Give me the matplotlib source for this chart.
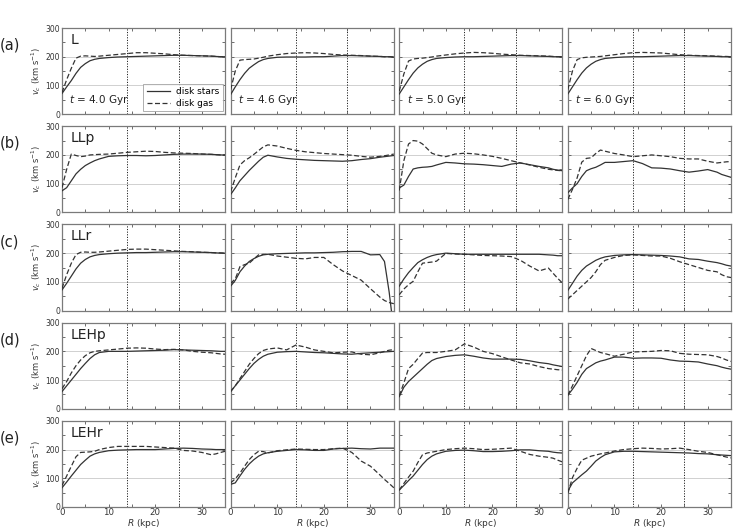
import matplotlib
matplotlib.use("Agg")
import matplotlib.pyplot as plt
from matplotlib.ticker import MultipleLocator
from matplotlib.transforms import blended_transform_factory

# Radius grid (kpc)
R = [0, 1, 2, 3, 4, 5, 6, 7, 8, 10, 12, 14, 16, 18, 20, 22, 24, 26, 28, 30, 32, 33, 34, 35]

models = ["L", "LLp", "LLr", "LEHp", "LEHr"]
row_labels = ["(a)", "(b)", "(c)", "(d)", "(e)"]
times = ["4.0", "4.6", "5.0", "6.0"]
markers_R = [14, 25]

# ---- Row (a): L ----
stars_L_40 = [72, 95, 117, 142, 163, 176, 186, 191, 194, 197, 199, 200, 201, 202, 203, 204, 205, 205, 204, 203, 202, 201, 200, 200]
gas_L_40 = [75, 120, 160, 195, 202, 203, 202, 201, 202, 205, 208, 211, 214, 214, 212, 210, 207, 205, 204, 203, 202, 201, 200, 200]
stars_L_46 = [68, 95, 120, 142, 160, 172, 183, 190, 194, 198, 199, 199, 199, 200, 200, 202, 204, 204, 203, 202, 201, 200, 200, 199]
gas_L_46 = [85, 150, 188, 190, 191, 192, 195, 198, 202, 207, 211, 213, 214, 213, 211, 208, 206, 205, 204, 202, 201, 200, 200, 199]
stars_L_50 = [70, 95, 120, 143, 161, 174, 184, 190, 194, 197, 199, 200, 200, 201, 202, 203, 204, 204, 203, 202, 201, 200, 200, 200]
gas_L_50 = [80, 140, 185, 192, 194, 195, 197, 199, 202, 206, 210, 213, 215, 214, 212, 209, 207, 205, 204, 203, 202, 201, 200, 200]
stars_L_60 = [70, 95, 120, 143, 161, 174, 184, 190, 194, 197, 199, 200, 200, 201, 202, 203, 204, 204, 203, 202, 201, 200, 200, 200]
gas_L_60 = [85, 150, 190, 196, 198, 199, 200, 201, 203, 207, 211, 214, 215, 214, 213, 210, 207, 205, 204, 203, 202, 201, 201, 200]

# ---- Row (b): LLp ----
stars_LLp_40 = [75, 86, 110, 134, 150, 163, 172, 180, 186, 195, 197, 198, 198, 197, 198, 200, 202, 203, 203, 203, 202, 201, 200, 200]
gas_LLp_40 = [86, 150, 203, 198, 194, 196, 200, 201, 202, 203, 206, 209, 211, 213, 212, 209, 207, 206, 205, 203, 202, 201, 200, 200]
stars_LLp_46 = [62, 85, 110, 128, 146, 162, 178, 192, 199, 193, 188, 185, 183, 181, 180, 179, 178, 180, 184, 187, 192, 194, 196, 198]
gas_LLp_46 = [72, 120, 165, 180, 190, 202, 215, 228, 235, 231, 223, 216, 211, 208, 205, 203, 201, 199, 195, 192, 195, 197, 200, 203]
stars_LLp_50 = [85, 95, 125, 151, 155, 157, 158, 160, 165, 174, 172, 169, 168, 166, 163, 160, 168, 172, 166, 160, 155, 150, 147, 145]
gas_LLp_50 = [76, 180, 238, 250, 248, 238, 222, 206, 200, 194, 203, 206, 204, 200, 195, 188, 180, 172, 165, 157, 150, 148, 146, 145]
stars_LLp_60 = [68, 85, 100, 125, 145, 152, 157, 165, 174, 174, 177, 180, 170, 155, 154, 151, 145, 140, 144, 149, 140, 132, 127, 122]
gas_LLp_60 = [45, 80, 120, 175, 188, 190, 205, 217, 213, 205, 200, 194, 197, 200, 197, 194, 188, 186, 186, 178, 172, 174, 176, 177]

# ---- Row (c): LLr ----
stars_LLr_40 = [72, 95, 120, 145, 165, 178, 187, 192, 195, 198, 200, 201, 202, 202, 203, 204, 205, 205, 204, 203, 202, 201, 200, 200]
gas_LLr_40 = [78, 125, 165, 195, 203, 204, 203, 203, 204, 207, 210, 213, 214, 214, 212, 210, 208, 206, 205, 203, 202, 201, 201, 200]
stars_LLr_46 = [85, 105, 135, 155, 171, 181, 189, 194, 196, 198, 199, 200, 201, 201, 202, 203, 205, 206, 206, 194, 195, 171, 65, -70]
gas_LLr_46 = [95, 110, 153, 160, 165, 180, 194, 196, 196, 190, 186, 182, 180, 185, 185, 160, 138, 122, 106, 76, 47, 35, 28, 24]
stars_LLr_50 = [85, 110, 132, 150, 167, 177, 185, 191, 195, 200, 198, 196, 196, 196, 196, 196, 196, 196, 196, 196, 194, 193, 191, 191]
gas_LLr_50 = [55, 75, 90, 102, 135, 165, 167, 169, 172, 199, 197, 196, 194, 192, 191, 190, 188, 175, 155, 138, 148, 130, 112, 96]
stars_LLr_60 = [70, 95, 120, 140, 155, 165, 175, 182, 187, 192, 194, 195, 194, 193, 192, 190, 187, 180, 178, 172, 167, 163, 158, 155]
gas_LLr_60 = [40, 55, 70, 85, 100, 115, 135, 160, 175, 185, 192, 194, 192, 190, 190, 182, 170, 160, 150, 140, 135, 125, 118, 115]

# ---- Row (d): LEHp ----
stars_LEHp_40 = [60, 80, 100, 120, 140, 158, 175, 188, 196, 200, 200, 200, 201, 202, 203, 204, 206, 205, 204, 203, 202, 201, 200, 200]
gas_LEHp_40 = [70, 95, 125, 150, 170, 185, 195, 200, 202, 205, 208, 211, 212, 211, 208, 206, 207, 205, 200, 197, 195, 193, 191, 190]
stars_LEHp_46 = [60, 80, 100, 120, 140, 158, 172, 183, 190, 197, 199, 200, 198, 196, 195, 193, 191, 190, 193, 195, 197, 198, 199, 200]
gas_LEHp_46 = [60, 80, 105, 130, 155, 175, 192, 203, 208, 212, 205, 222, 215, 205, 200, 195, 197, 198, 190, 188, 195, 200, 204, 206]
stars_LEHp_50 = [42, 75, 95, 110, 125, 140, 155, 168, 175, 182, 186, 188, 183, 177, 173, 173, 173, 172, 167, 161, 157, 153, 150, 147]
gas_LEHp_50 = [45, 90, 140, 155, 175, 194, 196, 196, 196, 200, 205, 226, 215, 200, 192, 181, 170, 160, 156, 147, 140, 138, 136, 135]
stars_LEHp_60 = [47, 68, 92, 120, 140, 150, 160, 166, 170, 180, 180, 176, 177, 177, 176, 170, 166, 165, 163, 156, 150, 145, 141, 138]
gas_LEHp_60 = [47, 80, 115, 150, 185, 210, 203, 196, 192, 183, 190, 198, 199, 200, 203, 202, 193, 190, 189, 188, 182, 177, 170, 165]

# ---- Row (e): LEHr ----
stars_LEHr_40 = [67, 87, 108, 128, 148, 163, 177, 185, 190, 196, 198, 199, 200, 200, 200, 202, 204, 205, 204, 202, 201, 200, 200, 200]
gas_LEHr_40 = [75, 108, 142, 175, 190, 191, 192, 194, 200, 207, 211, 211, 211, 211, 209, 207, 205, 197, 195, 190, 182, 185, 190, 194]
stars_LEHr_46 = [79, 84, 108, 131, 150, 165, 177, 185, 189, 194, 197, 200, 199, 197, 197, 202, 204, 205, 203, 202, 205, 205, 205, 205]
gas_LEHr_46 = [84, 98, 118, 142, 165, 182, 194, 193, 188, 196, 199, 202, 201, 200, 200, 203, 205, 190, 160, 142, 112, 96, 82, 67]
stars_LEHr_50 = [59, 75, 92, 108, 128, 148, 165, 177, 185, 194, 197, 198, 196, 193, 193, 194, 196, 199, 199, 196, 194, 191, 189, 188]
gas_LEHr_50 = [59, 82, 104, 125, 155, 182, 188, 191, 194, 200, 203, 205, 203, 200, 201, 203, 205, 194, 183, 177, 173, 170, 163, 157]
stars_LEHr_60 = [55, 84, 98, 112, 125, 142, 160, 172, 182, 192, 194, 194, 193, 192, 191, 190, 189, 188, 186, 185, 182, 181, 180, 179]
gas_LEHr_60 = [47, 102, 135, 163, 170, 177, 181, 185, 188, 195, 200, 203, 205, 204, 202, 203, 205, 200, 194, 190, 182, 178, 174, 171]

stars = [
    [stars_L_40, stars_L_46, stars_L_50, stars_L_60],
    [stars_LLp_40, stars_LLp_46, stars_LLp_50, stars_LLp_60],
    [stars_LLr_40, stars_LLr_46, stars_LLr_50, stars_LLr_60],
    [stars_LEHp_40, stars_LEHp_46, stars_LEHp_50, stars_LEHp_60],
    [stars_LEHr_40, stars_LEHr_46, stars_LEHr_50, stars_LEHr_60],
]
gas = [
    [gas_L_40, gas_L_46, gas_L_50, gas_L_60],
    [gas_LLp_40, gas_LLp_46, gas_LLp_50, gas_LLp_60],
    [gas_LLr_40, gas_LLr_46, gas_LLr_50, gas_LLr_60],
    [gas_LEHp_40, gas_LEHp_46, gas_LEHp_50, gas_LEHp_60],
    [gas_LEHr_40, gas_LEHr_46, gas_LEHr_50, gas_LEHr_60],
]

fig = plt.figure(figsize=(7.33, 5.30), dpi=100)
gs = fig.add_gridspec(5, 4, left=62/733, right=731/733, top=1-28/530, bottom=1-507/530,
                      wspace=0.033, hspace=0.14)

spine_c = "#7a7a7a"
line_c = "#333333"
for i in range(5):
    for j in range(4):
        ax = fig.add_subplot(gs[i, j])
        ax.set_xlim(0, 35)
        ax.set_ylim(0, 300)
        ax.axhline(100, color="#d0d0d0", lw=0.7, zorder=0)
        ax.axhline(200, color="#d0d0d0", lw=0.7, zorder=0)
        for xr in markers_R:
            ax.axvline(xr, color="#222222", lw=0.7, ls=(0, (1.2, 1.5)), zorder=1)
        ax.plot(R, stars[i][j], color=line_c, lw=0.9, ls="-", label="disk stars", zorder=3)
        ax.plot(R, gas[i][j], color=line_c, lw=0.9, ls=(0, (4, 2)), label="disk gas", zorder=3)
        ax.xaxis.set_major_locator(MultipleLocator(10))
        ax.xaxis.set_minor_locator(MultipleLocator(5))
        ax.yaxis.set_major_locator(MultipleLocator(100))
        ax.yaxis.set_minor_locator(MultipleLocator(50))
        ax.tick_params(which="both", direction="in", top=True, right=True,
                       length=2.5, width=0.6, color="#555555", labelsize=5.5,
                       labelcolor="#333333", pad=1.5)
        for sp in ax.spines.values():
            sp.set_color(spine_c)
            sp.set_linewidth(0.9)
        if j == 0:
            ax.set_ylabel(r"$v_c$ (km s$^{-1}$)", fontsize=6, color="#333333", labelpad=2)
            tr = blended_transform_factory(fig.transFigure, ax.transAxes)
            ax.text(0.0, 0.80, row_labels[i], transform=tr, fontsize=10.5,
                    ha="left", va="center", color="#222222")
            ax.text(0.05, 0.86, models[i], transform=ax.transAxes, fontsize=10,
                    ha="left", va="center", color="#222222")
        else:
            ax.set_yticklabels([])
        if i == 4:
            ax.set_xlabel(r"$R$ (kpc)", fontsize=6.5, color="#333333", labelpad=0)
            ax.tick_params(axis="x", labelsize=6.2, pad=1.0)
        else:
            ax.set_xticklabels([])
        if i == 0:
            ax.text(0.045, 0.16, r"$t$ = " + times[j] + " Gyr", transform=ax.transAxes,
                    fontsize=7.5, ha="left", va="center", color="#222222")
        if i == 0 and j == 0:
            leg = ax.legend(loc="lower right", fontsize=6.5, frameon=True, fancybox=False,
                            handlelength=2.6, borderpad=0.4, labelspacing=0.3,
                            handletextpad=0.6, borderaxespad=0.3)
            leg.get_frame().set_edgecolor("#999999")
            leg.get_frame().set_linewidth(0.7)

fig.savefig("out.png", dpi=100)
